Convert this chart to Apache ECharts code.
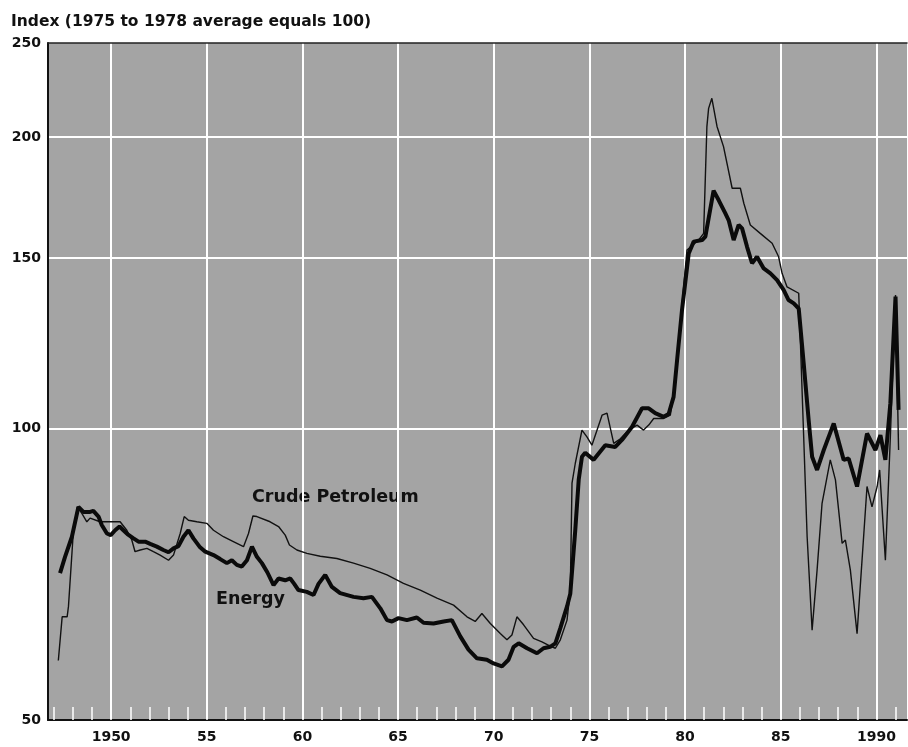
<!DOCTYPE html>
<html>
<head>
<meta charset="utf-8">
<title>Energy and Crude Petroleum price index</title>
<script src="https://cdn.jsdelivr.net/npm/echarts@6/dist/echarts.min.js"></script>
<style>
  html, body { margin: 0; padding: 0; background: #fff; }
  #chartIndex { width: 908px; height: 747px; }
</style>
</head>
<body>
<div id="chartIndex"></div>
<script>
// Energy (thick line)
var energyYears = [
  1947.33, 1947.59, 1947.95, 1948.29, 1948.55, 1948.90, 1949.07, 1949.34, 1949.51, 1949.78,
  1949.98, 1950.21, 1950.44, 1950.64, 1950.85, 1951.17, 1951.43, 1951.78, 1952.04, 1952.39,
  1952.73, 1953.00, 1953.26, 1953.52, 1953.78, 1954.04, 1954.30, 1954.62, 1954.92, 1955.35,
  1955.70, 1956.05, 1956.31, 1956.57, 1956.83, 1957.10, 1957.36, 1957.62, 1957.88, 1958.17,
  1958.49, 1958.75, 1959.10, 1959.36, 1959.57, 1959.79, 1960.23, 1960.58, 1960.84, 1961.19,
  1961.54, 1961.97, 1962.67, 1963.19, 1963.63, 1964.07, 1964.42, 1964.68, 1965.02, 1965.46,
  1965.98, 1966.33, 1966.85, 1967.38, 1967.81, 1968.25, 1968.68, 1969.12, 1969.64, 1969.99,
  1970.43, 1970.77, 1971.04, 1971.30, 1971.74, 1972.26, 1972.60, 1972.95, 1973.22, 1973.48,
  1973.83, 1974.00, 1974.26, 1974.44, 1974.61, 1974.78, 1975.22, 1975.83, 1976.35, 1976.70,
  1977.23, 1977.75, 1978.10, 1978.44, 1978.88, 1979.14, 1979.40, 1979.58, 1979.84, 1980.19,
  1980.45, 1980.89, 1981.06, 1981.49, 1981.76, 1982.10, 1982.28, 1982.54, 1982.80, 1982.98,
  1983.24, 1983.50, 1983.76, 1984.11, 1984.46, 1984.81, 1985.15, 1985.41, 1985.68, 1985.94,
  1986.20, 1986.46, 1986.64, 1986.90, 1987.25, 1987.77, 1988.29, 1988.55, 1988.99, 1989.51,
  1989.95, 1990.21, 1990.47, 1990.73, 1991.00, 1991.16
];
var energyIndex = [
  70.9, 73.7, 77.3, 83.0, 82.0, 82.0, 82.2, 81.1, 79.5, 77.9,
  77.6, 78.5, 79.2, 78.5, 77.8, 77.0, 76.4, 76.4, 76.0, 75.5,
  74.9, 74.5, 75.2, 75.6, 77.3, 78.5, 77.0, 75.5, 74.6, 74.0,
  73.3, 72.6, 73.1, 72.3, 72.0, 73.1, 75.5, 73.7, 72.6, 71.0,
  68.9, 70.0, 69.7, 70.0, 69.1, 68.1, 67.8, 67.3, 69.1, 70.6,
  68.6, 67.6, 67.0, 66.8, 67.0, 65.2, 63.4, 63.2, 63.7, 63.4,
  63.8, 63.0, 62.9, 63.2, 63.4, 61.0, 59.1, 57.9, 57.7, 57.2,
  56.8, 57.7, 59.5, 60.0, 59.3, 58.6, 59.3, 59.5, 60.0, 62.2,
  65.5, 67.5, 78.5, 88.5, 93.5, 94.4, 92.8, 96.1, 95.7, 97.3,
  100.4, 104.9, 104.9, 103.7, 102.8, 103.5, 107.8, 117.5, 132.5, 151.6,
  155.9, 156.5, 157.8, 176.0, 172.0, 166.8, 164.0, 156.5, 162.2, 160.9,
  154.0, 148.1, 150.4, 146.3, 144.6, 142.3, 139.0, 135.7, 134.6, 133.0,
  116.7, 102.0, 93.5, 90.6, 95.0, 101.2, 92.8, 93.1, 87.1, 98.8,
  95.0, 98.4, 92.8, 106.2, 136.8, 104.5
];

// Crude Petroleum (thin line)
var crudeYears = [
  1947.24, 1947.44, 1947.70, 1947.77, 1948.03, 1948.24, 1948.47, 1948.73, 1948.90, 1949.42,
  1950.47, 1950.82, 1951.08, 1951.25, 1951.52, 1951.87, 1952.21, 1952.56, 1953.00, 1953.26,
  1953.61, 1953.82, 1954.04, 1954.48, 1955.00, 1955.35, 1955.87, 1956.39, 1956.92, 1957.18,
  1957.41, 1957.62, 1958.31, 1958.75, 1959.10, 1959.32, 1959.71, 1960.23, 1960.93, 1961.80,
  1962.67, 1963.54, 1964.42, 1965.28, 1966.16, 1967.03, 1967.90, 1968.60, 1969.03, 1969.38,
  1969.82, 1970.34, 1970.69, 1970.95, 1971.21, 1971.56, 1972.08, 1972.52, 1972.95, 1973.22,
  1973.48, 1973.83, 1974.00, 1974.09, 1974.26, 1974.61, 1974.87, 1975.13, 1975.66, 1975.92,
  1976.27, 1976.60, 1977.05, 1977.49, 1977.83, 1978.10, 1978.36, 1978.88, 1979.23, 1979.49,
  1979.75, 1980.10, 1980.71, 1980.97, 1981.14, 1981.23, 1981.40, 1981.67, 1982.01, 1982.46,
  1982.89, 1983.07, 1983.41, 1983.93, 1984.55, 1984.89, 1985.07, 1985.33, 1985.94, 1986.20,
  1986.38, 1986.64, 1986.90, 1987.16, 1987.59, 1987.86, 1988.21, 1988.38, 1988.64, 1988.99,
  1989.51, 1989.77, 1990.04, 1990.17, 1990.47, 1990.73, 1991.00, 1991.16
];
var crudeIndex = [
  57.6, 63.9, 63.9, 65.5, 78.5, 83.0, 81.7, 80.1, 80.8, 80.1,
  80.1, 78.5, 76.7, 74.6, 74.9, 75.2, 74.6, 74.0, 73.1, 74.0,
  77.9, 81.1, 80.4, 80.1, 79.8, 78.5, 77.3, 76.4, 75.5, 77.9,
  81.2, 81.1, 80.1, 79.2, 77.6, 75.8, 74.9, 74.3, 73.8, 73.4,
  72.6, 71.7, 70.6, 69.2, 68.1, 66.8, 65.7, 63.9, 63.2, 64.4,
  62.9, 61.4, 60.5, 61.2, 63.9, 62.7, 60.7, 60.2, 59.6, 59.3,
  60.5, 63.4, 68.1, 87.8, 92.0, 99.6, 98.0, 96.1, 103.2, 103.7,
  96.5, 97.5, 99.6, 100.8, 99.6, 100.8, 102.4, 102.4, 103.2, 112.0,
  128.0, 152.8, 156.5, 159.0, 204.9, 214.0, 219.2, 205.0, 195.4, 177.0,
  177.0, 170.8, 162.2, 159.0, 155.3, 150.4, 144.6, 140.0, 137.9, 98.0,
  77.3, 61.9, 71.4, 83.7, 92.8, 88.5, 76.1, 76.7, 71.4, 61.4,
  87.1, 83.0, 87.1, 90.6, 73.1, 98.0, 137.3, 95.0
];

// axis ticks
var yearLabels = [1950, 1955, 1960, 1965, 1970, 1975, 1980, 1985, 1990];
var yearTicks = [];
for (var yr = 1947; yr <= 1991; yr++) yearTicks.push(yr);
var indexLabels = [50, 100, 150, 200, 250];
var indexGrid = [100, 150, 200];

function pairs(xs, ys) {
  return xs.map(function (x, i) { return [x, ys[i]]; });
}

var FONT = 'DejaVu Sans';
var X_MIN = 1946.7;
var X_MAX = 1991.6;

var option = {
  animation: false,
  backgroundColor: '#ffffff',
  textStyle: { fontFamily: FONT },
  title: {
    text: 'Index (1975 to 1978 average equals 100)',
    left: 11,
    top: 14,
    padding: 0,
    textStyle: { fontFamily: FONT, fontSize: 15.5, fontWeight: 'bold', color: '#111' }
  },
  grid: {
    left: 48,
    right: 1,
    top: 43,
    bottom: 27,
    show: true,
    borderWidth: 0,
    backgroundColor: '#a4a4a4'
  },
  xAxis: [
    {
      type: 'value',
      min: X_MIN,
      max: X_MAX,
      axisLine: { show: true, lineStyle: { color: '#111', width: 2 } },
      axisTick: { show: false, customValues: yearLabels },
      axisLabel: {
        customValues: yearLabels,
        margin: 10,
        color: '#111',
        fontFamily: FONT,
        fontSize: 14,
        fontWeight: 'bold',
        formatter: function (v) {
          return (v === 1950 || v === 1990) ? String(v) : String(v % 100);
        }
      },
      splitLine: { show: true, lineStyle: { color: '#ffffff', width: 2 } }
    },
    {
      // yearly tick marks along the bottom
      type: 'value',
      min: X_MIN,
      max: X_MAX,
      position: 'bottom',
      axisLine: { show: false },
      axisTick: {
        show: true,
        inside: true,
        length: 13,
        customValues: yearTicks,
        lineStyle: { color: '#ffffff', width: 1.5 }
      },
      axisLabel: { show: false },
      splitLine: { show: false }
    },
    {
      // top border
      type: 'value',
      min: X_MIN,
      max: X_MAX,
      position: 'top',
      axisLine: { show: true, lineStyle: { color: '#222', width: 1.5 } },
      axisTick: { show: false },
      axisLabel: { show: false },
      splitLine: { show: false }
    }
  ],
  yAxis: {
    type: 'log',
    min: 50,
    max: 250,
    axisLine: { show: true, lineStyle: { color: '#111', width: 2 } },
    axisTick: { show: false, customValues: indexGrid },
    axisLabel: {
      customValues: indexLabels,
      margin: 7,
      color: '#111',
      fontFamily: FONT,
      fontSize: 14,
      fontWeight: 'bold'
    },
    splitLine: { show: true, lineStyle: { color: '#ffffff', width: 2 } }
  },
  series: [
    {
      name: 'Crude Petroleum',
      type: 'line',
      xAxisIndex: 0,
      data: pairs(crudeYears, crudeIndex),
      showSymbol: false,
      symbol: 'none',
      lineStyle: { color: '#111', width: 1.4 },
      z: 3
    },
    {
      name: 'Energy',
      type: 'line',
      xAxisIndex: 0,
      data: pairs(energyYears, energyIndex),
      showSymbol: false,
      symbol: 'none',
      lineStyle: { color: '#0a0a0a', width: 4 },
      z: 4
    }
  ],
  graphic: [
    {
      type: 'text',
      left: 252,
      top: 488,
      style: { text: 'Crude Petroleum', font: 'bold 17.5px "DejaVu Sans"', fill: '#111' }
    },
    {
      type: 'text',
      left: 216,
      top: 590,
      style: { text: 'Energy', font: 'bold 17.5px "DejaVu Sans"', fill: '#111' }
    }
  ]
};

var chartIndex = echarts.init(document.getElementById('chartIndex'));
chartIndex.setOption(option);
window.addEventListener('resize', function () {
  chartIndex.resize();
});
</script>
</body>
</html>
